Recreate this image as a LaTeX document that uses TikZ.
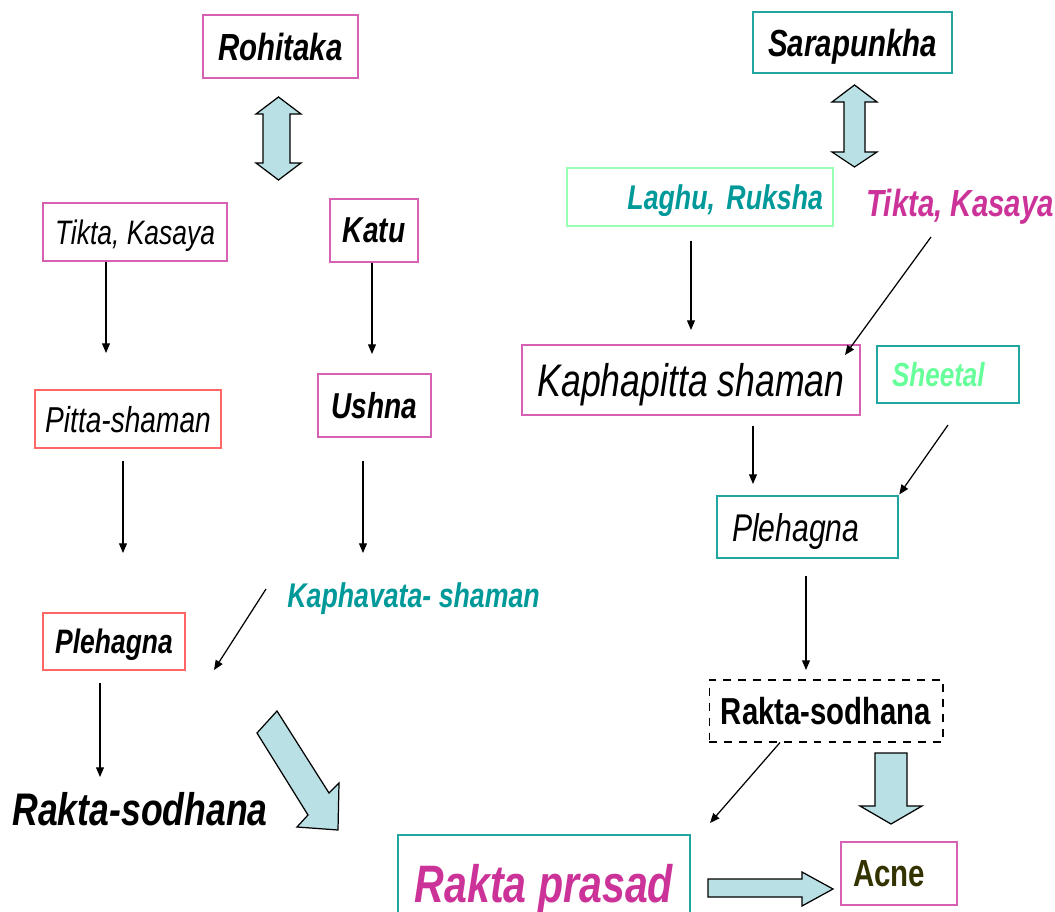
\documentclass[tikz,border=0pt]{standalone}
\usepackage{fontspec}
\setmainfont{Liberation Sans}[FakeStretch=0.78]
\usetikzlibrary{arrows.meta}

\definecolor{boxpink}{RGB}{214,96,178}
\definecolor{boxred}{RGB}{255,102,102}
\definecolor{boxteal}{RGB}{32,165,160}
\definecolor{boxgreen}{RGB}{153,255,178}
\definecolor{txtteal}{RGB}{0,153,153}
\definecolor{txtpink}{RGB}{204,51,153}
\definecolor{txtgreen}{RGB}{102,255,153}
\definecolor{txtolive}{RGB}{51,51,0}
\definecolor{arrowfill}{RGB}{185,224,228}

\begin{document}
\begin{tikzpicture}[x=0.02cm,y=-0.02cm,
    box/.style={draw, rectangle, line width=0.8pt, inner sep=0pt, text depth=0pt, align=center},
    arr/.style={-{Triangle[length=5.5pt,width=4.5pt]}, line width=0.7pt},
    fat/.style={draw=black, fill=arrowfill, line width=0.7pt, line join=miter}]
    \useasboundingbox (0,0) rectangle (1055,912);

    % Rohitaka side
    \node[box, draw=boxpink, minimum width=3.1cm, minimum height=1.26cm, font=\fontsize{21.5}{24}\selectfont\bfseries\itshape] (rohi) at (280.5,46.5) {Rohitaka};
    \node[box, draw=boxpink, minimum width=3.68cm, minimum height=1.16cm, font=\fontsize{19.3}{22}\selectfont\itshape] (tiktaL) at (135,232) {Tikta, Kasaya};
    \node[box, draw=boxpink, minimum width=1.76cm, minimum height=1.26cm, font=\fontsize{20.5}{23}\selectfont\bfseries\itshape] (katu) at (374,230.5) {Katu};
    \node[box, draw=boxred, minimum width=3.72cm, minimum height=1.16cm, font=\fontsize{20.5}{23}\selectfont\itshape] (pitta) at (128,419) {Pitta-shaman};
    \node[box, draw=boxpink, minimum width=2.26cm, minimum height=1.26cm, font=\fontsize{20.5}{23}\selectfont\bfseries\itshape] (ushna) at (374.5,405.5) {Ushna};
    \node[anchor=base west, inner sep=0pt, text=txtteal, font=\fontsize{19.5}{22}\selectfont\bfseries\itshape] (kapha) at (287,607) {Kaphavata- shaman};
    \node[box, draw=boxred, minimum width=2.84cm, minimum height=1.14cm, font=\fontsize{19.3}{22}\selectfont\bfseries\itshape] (plehL) at (114,641.5) {Plehagna};
    \node[anchor=base west, inner sep=0pt, font=\fontsize{26}{29}\selectfont\bfseries\itshape] (raktaL) at (12,825) {Rakta-sodhana};

    % Sarapunkha side
    \node[box, draw=boxteal, minimum width=3.98cm, minimum height=1.22cm, font=\fontsize{21.5}{24}\selectfont\bfseries\itshape] (sara) at (852.5,42.5) {Sarapunkha};
    \node[box, draw=boxgreen, minimum height=1.16cm, inner xsep=0.2cm, text width=4.92cm, align=right, text=txtteal, font=\fontsize{19.5}{22}\selectfont\bfseries\itshape] (laghu) at (700,197) {Laghu, Ruksha};
    \node[anchor=base west, inner sep=0pt, text=txtpink, font=\fontsize{21.5}{24}\selectfont\bfseries\itshape] (tiktaR) at (866,217) {Tikta, Kasaya};
    \node[box, draw=boxpink, minimum width=6.76cm, minimum height=1.4cm, font=\fontsize{26}{29}\selectfont\itshape] (kapi) at (691,380) {Kaphapitta shaman};
    \node[box, draw=boxteal, minimum height=1.14cm, inner xsep=0.3cm, text width=2.24cm, align=left, text=txtgreen, font=\fontsize{19}{22}\selectfont\bfseries\itshape] (sheetal) at (948,374.5) {Sheetal};
    \node[box, draw=boxteal, minimum height=1.24cm, inner xsep=0.3cm, text width=3.02cm, align=left, font=\fontsize{22}{25}\selectfont\itshape] (plehR) at (807.5,527) {Plehagna};
    \node[box, draw=black, line width=0.6pt, dash pattern=on 4.5pt off 4pt, minimum width=4.68cm, minimum height=1.24cm, font=\fontsize{21.4}{24}\selectfont\bfseries] (raktaR) at (826,711) {Rakta-sodhana};
    \node[box, draw=boxteal, minimum width=5.84cm, minimum height=1.92cm, text=txtpink, font=\fontsize{30}{33}\selectfont\bfseries\itshape] (prasad) at (544,883) {Rakta prasad};
    \node[box, draw=boxpink, minimum height=1.26cm, inner xsep=0.24cm, text width=1.84cm, align=left, text=txtolive, font=\fontsize{21.5}{24}\selectfont\bfseries] (acne) at (899,873.5) {Acne};

    % block arrows
    \draw[fat] (278.5,97) -- (301,114) -- (290,114) -- (290,163) -- (301,163) -- (278.5,180)
        -- (256,163) -- (263,163) -- (263,114) -- (256,114) -- cycle;
    \draw[fat] (854.5,85) -- (877,102) -- (865,102) -- (865,152) -- (877,152) -- (854.5,167)
        -- (832,152) -- (844,152) -- (844,102) -- (832,102) -- cycle;
    \draw[fat] (277,711) -- (329,793) -- (339,783) -- (338,830) -- (297,827) -- (308,815) -- (257,733) -- cycle;
    \draw[fat] (875,753) -- (907,753) -- (907,806) -- (922,806) -- (891,824) -- (860,806) -- (875,806) -- cycle;
    \draw[fat] (708,879) -- (802,879) -- (802,872) -- (833,889) -- (802,906) -- (802,897) -- (708,897) -- cycle;

    % thin arrows
    \coordinate (e1) at (106,353);
    \coordinate (e2) at (372,354);
    \coordinate (e3) at (123,553);
    \coordinate (e4) at (363,553);
    \coordinate (s5) at (266,589);
    \coordinate (e5) at (214,670);
    \coordinate (e6) at (100,777);
    \coordinate (e7) at (691,330);
    \coordinate (s8) at (931,237);
    \coordinate (e8) at (845,355);
    \coordinate (e9) at (753,484);
    \coordinate (s10) at (948,425);
    \coordinate (e11) at (806,670);
    \coordinate (s12) at (780,742);
    \coordinate (e12) at (710,823);

    \draw[arr] (tiktaL.south -| e1) -- (e1);
    \draw[arr] (katu.south -| e2) -- (e2);
    \draw[arr, shorten <=0.24cm] (pitta.south -| e3) -- (e3);
    \draw[arr, shorten <=0.46cm] (ushna.south -| e4) -- (e4);
    \draw[arr] (s5) -- (e5);
    \draw[arr, shorten <=0.25cm] (plehL.south -| e6) -- (e6);
    \draw[arr, shorten <=0.28cm] (laghu.south -| e7) -- (e7);
    \draw[arr] (s8) -- (e8);
    \draw[arr, shorten <=0.2cm] (kapi.south -| e9) -- (e9);
    \draw[arr, shorten >=0.02cm] (s10) -- (plehR.north east);
    \draw[arr, shorten <=0.34cm] (plehR.south -| e11) -- (e11);
    \draw[arr] (raktaR.south -| s12) -- (e12);
\end{tikzpicture}
\end{document}
